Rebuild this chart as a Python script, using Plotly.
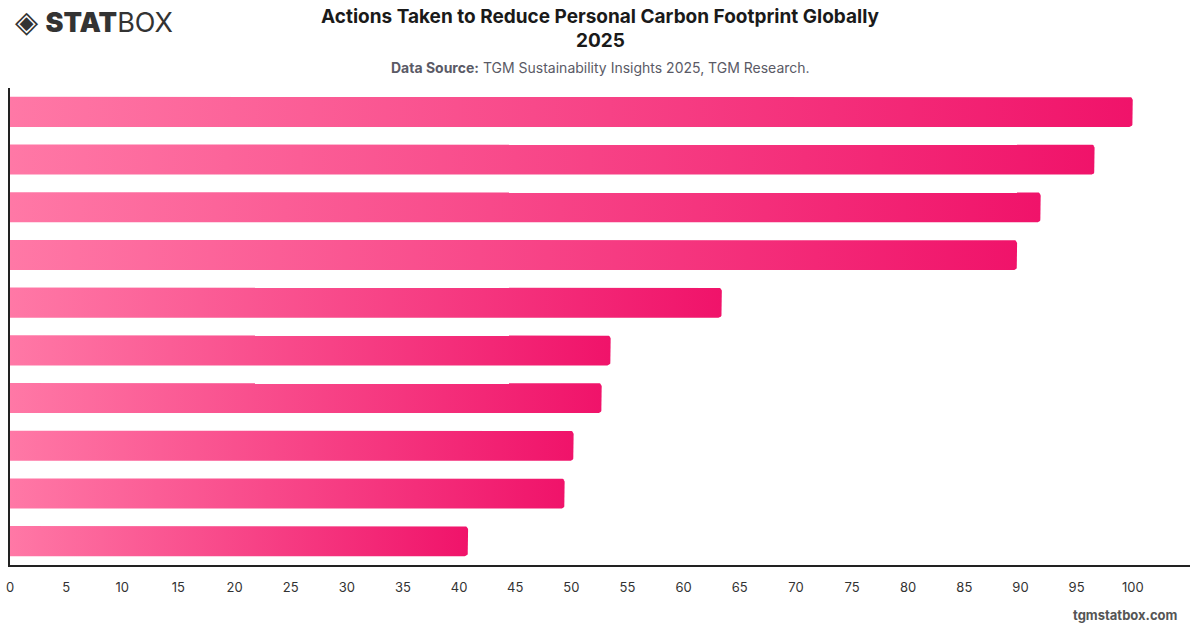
import numpy as np
import plotly.graph_objects as go

# ---- data ----
actions = [
    "Recycling",
    "Reducing energy use at home",
    "Reducing single-use plastics",
    "Reducing food waste",
    "Buying local products",
    "Using public transport",
    "Reducing water consumption",
    "Buying second-hand items",
    "Eating less meat",
    "Walking or cycling instead of driving",
]
shares = [100.0, 96.6, 91.8, 89.7, 63.4, 53.5, 52.7, 50.2, 49.4, 40.8]
x_ticks = list(range(0, 101, 5))

# ---- style ----
W, H = 1200, 628
M = dict(l=10, r=10, t=88, b=63)
X_MAX = 105.1
BAR_W = 0.63
RADIUS_PX = 3.5
C_LEFT = "#FF78A6"
C_RIGHT = "#F0136A"

PW = W - M["l"] - M["r"]
PH = H - M["t"] - M["b"]
px_per_x = PW / X_MAX
px_per_y = PH / len(actions)
rx = RADIUS_PX / px_per_x
ry = RADIUS_PX / px_per_y


def px_to_paper_x(px):
    return (px - M["l"]) / PW


def px_to_paper_y(py):
    return (H - M["b"] - py) / PH


fig = go.Figure()
for i, (name, v) in enumerate(zip(actions, shares)):
    y0, y1 = i - BAR_W / 2, i + BAR_W / 2
    t1 = np.linspace(-np.pi / 2, 0, 8)
    t2 = np.linspace(0, np.pi / 2, 8)
    xs = [0, v - rx]
    ys = [y0, y0]
    xs += list(v - rx + rx * np.cos(t1))
    ys += list(y0 + ry + ry * np.sin(t1))
    xs += list(v - rx + rx * np.cos(t2))
    ys += list(y1 - ry + ry * np.sin(t2))
    xs += [v - rx, 0, 0]
    ys += [y1, y1, y0]
    fig.add_trace(go.Scatter(
        x=xs, y=ys, mode="lines", fill="toself",
        line=dict(width=0, color=C_RIGHT),
        fillgradient=dict(type="horizontal",
                          colorscale=[[0, C_LEFT], [1, C_RIGHT]]),
        hoveron="fills", name=name, text=f"{name}: {v}",
        hoverinfo="text", showlegend=False,
    ))

fig.update_layout(
    width=W, height=H, margin=M,
    paper_bgcolor="white", plot_bgcolor="white",
    font=dict(family="Inter, 'Noto Sans', sans-serif", color="#333333"),
    xaxis=dict(
        range=[0, X_MAX], tickvals=x_ticks, ticktext=[str(t) for t in x_ticks],
        showgrid=False, zeroline=False, showline=True, linecolor="#222222",
        linewidth=1.5, ticks="outside", ticklen=10, tickcolor="rgba(0,0,0,0)",
        tickfont=dict(size=13, color="#333333"),
        fixedrange=True, automargin=False,
    ),
    yaxis=dict(
        range=[len(actions) - 0.5, -0.5], showticklabels=False,
        showgrid=False, zeroline=False, showline=True, linecolor="#222222",
        linewidth=1.5, ticks="", fixedrange=True, automargin=False,
    ),
    annotations=[
        dict(text="<b>Actions Taken to Reduce Personal Carbon Footprint Globally</b>",
             xref="paper", yref="paper", x=px_to_paper_x(600), y=px_to_paper_y(17),
             xanchor="center", yanchor="middle", showarrow=False,
             font=dict(size=19, color="#1a1a1a")),
        dict(text="<b>2025</b>",
             xref="paper", yref="paper", x=px_to_paper_x(600), y=px_to_paper_y(40),
             xanchor="center", yanchor="middle", showarrow=False,
             font=dict(size=19, color="#1a1a1a")),
        dict(text="<b>Data Source:</b> TGM Sustainability Insights 2025, TGM Research.",
             xref="paper", yref="paper", x=px_to_paper_x(600), y=px_to_paper_y(67),
             xanchor="center", yanchor="middle", showarrow=False,
             font=dict(size=14, color="#5a5a66")),
        dict(text="<span style='font-size:30px'>◈</span> <span style='font-weight:900'>STAT</span>BOX",
             xref="paper", yref="paper",
             x=px_to_paper_x(13), y=px_to_paper_y(21),
             xanchor="left", yanchor="middle", showarrow=False,
             font=dict(size=27, color="#333333", family="Inter, sans-serif")),
        dict(text="<b>tgmstatbox.com</b>", xref="paper", yref="paper",
             x=px_to_paper_x(1180), y=px_to_paper_y(615),
             xanchor="right", yanchor="middle", showarrow=False,
             font=dict(size=13, color="#555555")),
    ],
)

fig.write_html("out.html")
